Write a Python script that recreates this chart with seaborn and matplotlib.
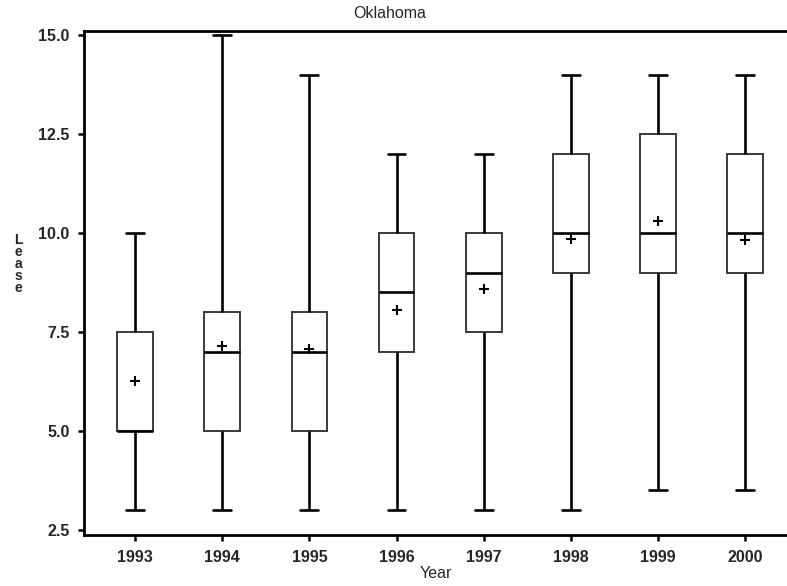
import matplotlib
matplotlib.use("Agg")
import matplotlib.pyplot as plt
import seaborn as sns
import pandas as pd

years = ["1993", "1994", "1995", "1996", "1997", "1998", "1999", "2000"]
mins = [3.0, 3.0, 3.0, 3.0, 3.0, 3.0, 3.5, 3.5]
q1s = [5.0, 5.0, 5.0, 7.0, 7.5, 9.0, 9.0, 9.0]
medians = [5.0, 7.0, 7.0, 8.5, 9.0, 10.0, 10.0, 10.0]
q3s = [7.5, 8.0, 8.0, 10.0, 10.0, 12.0, 12.5, 12.0]
maxs = [10.0, 15.0, 14.0, 12.0, 12.0, 14.0, 14.0, 14.0]
means = [6.27, 7.15, 7.07, 8.06, 8.59, 9.85, 10.31, 9.83]

yticks = [2.5, 5.0, 7.5, 10.0, 12.5, 15.0]
ytick_labels = ["2.5", "5.0", "7.5", "10.0", "12.5", "15.0"]

sns.set_style("white")
plt.rcParams["font.family"] = ["Liberation Sans", "DejaVu Sans"]

# five-number summary per year -> quartiles reproduced exactly by the boxplot
rows = []
for y, a, b, c, d, e in zip(years, mins, q1s, medians, q3s, maxs):
    for v in (a, b, c, d, e):
        rows.append({"Year": y, "Lease": v})
df = pd.DataFrame(rows)
mdf = pd.DataFrame({"Year": years, "Mean": means})

fig = plt.figure(figsize=(7.87, 5.86), dpi=100)
ax = fig.add_axes([84 / 787, 1 - 535 / 586, 1 - 84 / 787, (535 - 31) / 586])

sns.boxplot(data=df, x="Year", y="Lease", order=years, whis=(0, 100),
            width=0.41, color="white", linecolor="#3a3a3a", linewidth=1.4,
            showfliers=False, ax=ax, capwidths=0.205,
            whiskerprops=dict(color="black", linewidth=1.9),
            capprops=dict(color="black", linewidth=1.9),
            medianprops=dict(color="black", linewidth=1.9),
            boxprops=dict(edgecolor="#3a3a3a", linewidth=1.4))
sns.scatterplot(data=mdf, x="Year", y="Mean", marker="+", s=62,
                color="black", linewidth=1.5, ax=ax, zorder=5)

ax.set_xlim(-0.586, 7.48)
ax.set_ylim(2.374, 15.10)
ax.set_yticks(yticks)
ax.set_yticklabels(ytick_labels)

for side in ("left", "bottom", "top"):
    ax.spines[side].set_visible(True)
    ax.spines[side].set_linewidth(2)
    ax.spines[side].set_color("black")
ax.spines["right"].set_visible(False)

ax.tick_params(axis="both", which="major", direction="out", length=4.5,
               width=1.8, color="black", labelsize=11.5, pad=6, bottom=True, left=True)
for lab in ax.get_xticklabels() + ax.get_yticklabels():
    lab.set_fontweight("bold")

ax.set_xlabel("Year", fontsize=11.5, labelpad=1)
ax.set_ylabel("")
fig.text(390 / 787, 1 - 13 / 586, "Oklahoma", ha="center", va="center", fontsize=11.5)
fig.text(18 / 787, 1 - 264 / 586, "L\ne\na\ns\ne", ha="center", va="center",
         fontsize=10, fontweight="bold", linespacing=0.8)

fig.savefig("out.png", dpi=100)
